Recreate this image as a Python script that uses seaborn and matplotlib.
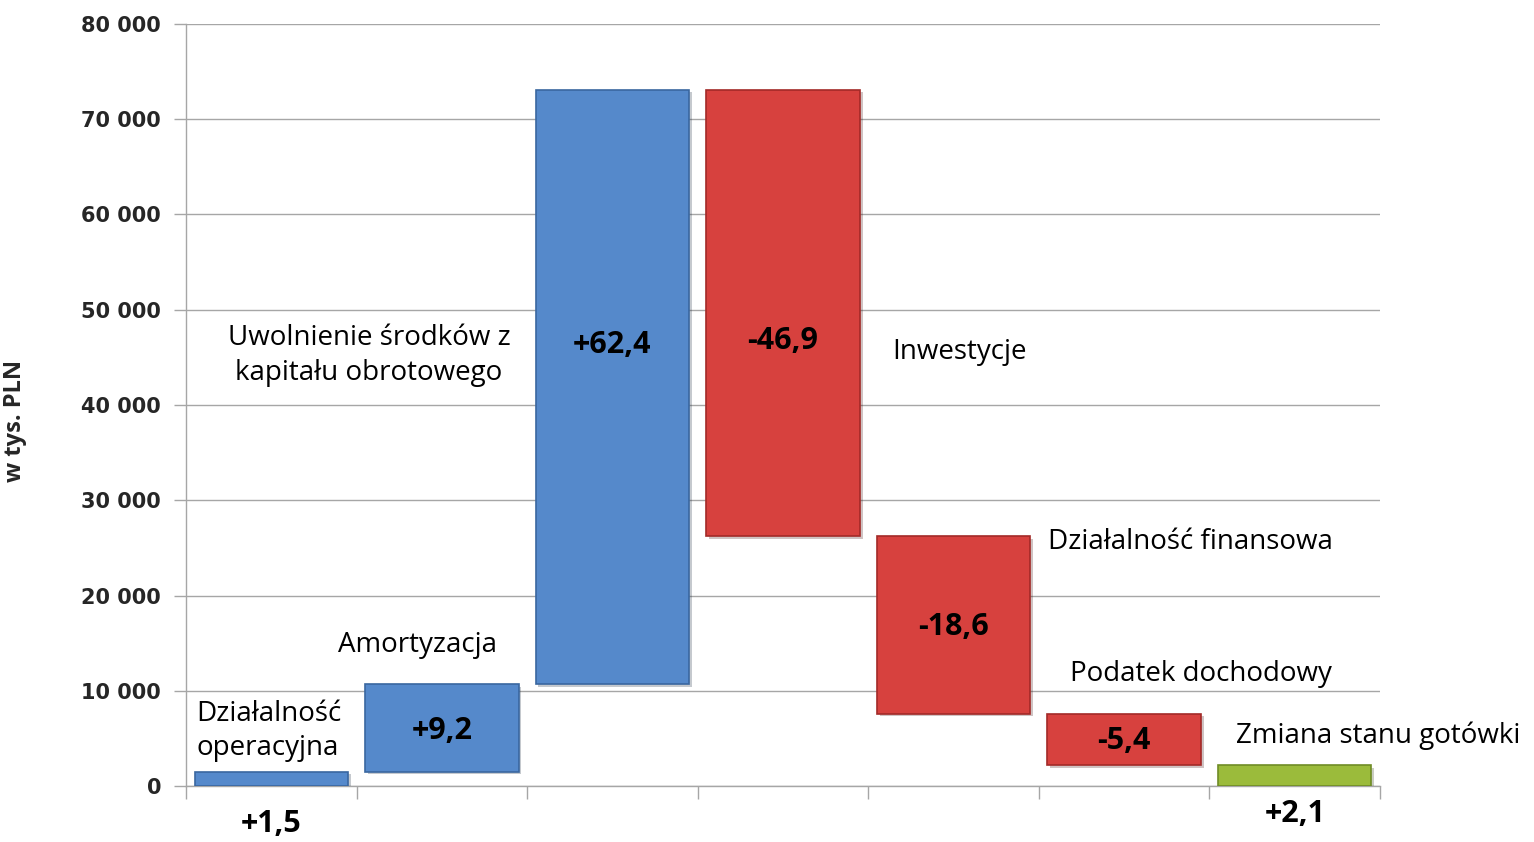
import matplotlib
matplotlib.use("Agg")
import matplotlib.pyplot as plt
import matplotlib.patheffects as pe
import numpy as np
import pandas as pd
import seaborn as sns

# ---- data (thousands PLN) ----
categories = ["Działalność\noperacyjna", "Amortyzacja", "Uwolnienie środków z\nkapitału obrotowego",
              "Inwestycje", "Działalność finansowa", "Podatek dochodowy", "Zmiana stanu gotówki"]
deltas = [1500, 9200, 62400, -46900, -18600, -5400]
value_labels = ["+1,5", "+9,2", "+62,4", "-46,9", "-18,6", "-5,4", "+2,1"]
y_ticks = [0, 10000, 20000, 30000, 40000, 50000, 60000, 70000, 80000]
y_tick_labels = ["0", "10 000", "20 000", "30 000", "40 000", "50 000", "60 000", "70 000", "80 000"]
y_title = "w tys. PLN"

# waterfall geometry from the data
cum = np.cumsum([0] + deltas)
bottoms = [min(cum[i], cum[i + 1]) for i in range(len(deltas))] + [0]
heights = [abs(d) for d in deltas] + [cum[-1]]
kinds = ["inc" if d > 0 else "dec" for d in deltas] + ["total"]
colors = {"inc": "#5589CB", "dec": "#D7413E", "total": "#9BBB3B"}
edges = {"inc": "#3A67A0", "dec": "#A32A28", "total": "#6F8C26"}

df = pd.DataFrame({"cat": [str(i) for i in range(len(categories))], "height": heights})

sns.set_theme(style="white")
plt.rcParams["font.family"] = ["Open Sans", "DejaVu Sans"]

fig = plt.figure(figsize=(15.34, 8.42), dpi=100)
ax = fig.add_axes([0.1213, 0.0665, 0.7783, 0.905])

sns.barplot(data=df, x="cat", y="height", bottom=bottoms, width=0.9, ax=ax,
            color="#5589CB", saturation=1, zorder=3)

for p, k in zip(ax.patches, kinds):
    p.set_facecolor(colors[k])
    p.set_edgecolor(edges[k])
    p.set_linewidth(1.2)
    p.set_path_effects([pe.SimplePatchShadow(offset=(2, -2), alpha=0.25), pe.Normal()])

ax.set_xlim(-0.5, 6.5)
ax.set_ylim(0, 80000)
ax.set_yticks(y_ticks)
ax.set_yticklabels(y_tick_labels, fontsize=15, fontweight="bold", family="DejaVu Sans")
ax.yaxis.grid(True, color="#A6A6A6", linewidth=1.0, zorder=0)
ax.set_axisbelow(True)
ax.set_xlabel("")
ax.set_ylabel(y_title, fontsize=17, fontweight="bold")
ax.yaxis.set_label_coords(-0.133, 0.479)
ax.set_xticks([])
ax.set_xticks(np.arange(-0.5, 7.0, 1.0), minor=True)
ax.tick_params(axis="x", which="minor", length=9, width=1, color="#A6A6A6", direction="out", bottom=True)
ax.tick_params(axis="y", length=9, width=1, color="#A6A6A6", direction="out", left=True, pad=9)

for s in ["top", "right"]:
    ax.spines[s].set_visible(False)
for s in ["left", "bottom"]:
    ax.spines[s].set_color("#A6A6A6")
    ax.spines[s].set_linewidth(1.0)

# value labels
val_pos = [(0, -4000), (1, 5800), (2, 46300), (3, 46700), (4, 16700), (5, 4700), (6, -2900)]
for (x, y), t in zip(val_pos, value_labels):
    ax.text(x, y, t, ha="center", va="center", fontsize=22, fontweight="bold",
            color="black", clip_on=False, zorder=5)

# category labels
cat_pos = [(-0.44, 5800, "left"), (0.855, 14800, "center"), (0.573, 45200, "center"),
           (3.64, 45600, "left"), (4.556, 25600, "left"), (4.685, 11800, "left"), (5.658, 5250, "left")]
for (x, y, ha), t in zip(cat_pos, categories):
    ax.text(x, y, t, ha=ha, va="center", fontsize=20, color="black", linespacing=1.3,
            clip_on=False, zorder=5)

fig.savefig("out.png", dpi=100)
